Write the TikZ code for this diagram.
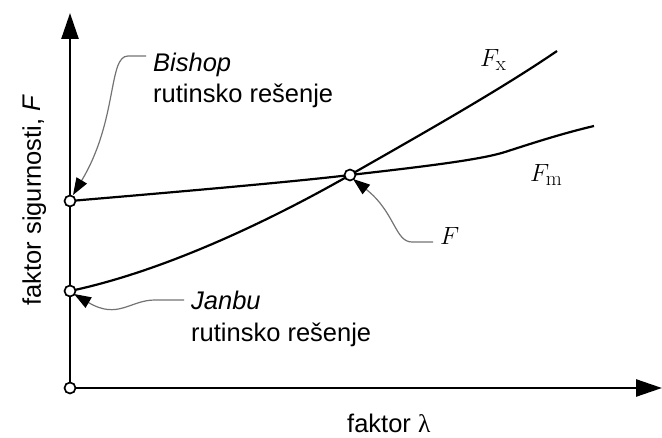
\documentclass[tikz,border=0pt]{standalone}
\usepackage[no-math]{fontspec}
\setmainfont{Liberation Sans}
\newfontfamily\serifgr{Liberation Serif}
\usetikzlibrary{arrows.meta}
\begin{document}
\begin{tikzpicture}[x=1pt,y=-1pt,
  axis/.style={line width=2.6pt,-{Triangle[length=26pt,width=17pt]}},
  curve/.style={line width=2.2pt,line join=round},
  leader/.style={line width=1.2pt,draw=black!55,-{Triangle[length=17pt,width=12pt,fill=black,color=black]}},
  pt/.style={circle,draw=black,line width=1.7pt,fill=white,minimum size=11pt,inner sep=0pt},
  txt/.style={font=\fontsize{25.5}{31}\selectfont,inner sep=0pt},
  mth/.style={font=\fontsize{31}{36}\selectfont,inner sep=0pt}]
\useasboundingbox (0,0) rectangle (662,438);
% axes
\coordinate (ytip) at (70,13);
\coordinate (xtip) at (662,388);
\coordinate (O0) at (70,388);
\draw[axis] (O0) -- (ytip);
\draw[axis] (O0) -- (xtip);
% points
\coordinate (Bc) at (70,201);
\coordinate (Jc) at (70,291);
\coordinate (Xc) at (350,175);
\coordinate (Xend) at (557,51);
\coordinate (Mend) at (594,126);
% curves
\draw[curve] (Jc) .. controls (170,270) and (280,215) .. (Xc)
  .. controls (420,135) and (500,90) .. (Xend);
\draw[curve] (Bc) .. controls (200,190) and (300,181) .. (Xc)
  .. controls (420,167) and (480,160) .. (505,152)
  .. controls (530,144) and (560,134) .. (Mend);
\node[pt] (O) at (O0) {};
\node[pt] (B) at (Bc) {};
\node[pt] (J) at (Jc) {};
\node[pt] (X) at (Xc) {};
% labels
\node[txt,anchor=base west] (bish) at (153,72) {\textit{Bishop}};
\node[txt,anchor=base west] (bish2) at (153,103) {rutinsko rešenje};
\node[txt,anchor=base west] (jan) at (191,310) {\textit{Janbu}};
\node[txt,anchor=base west] (jan2) at (191,342) {rutinsko rešenje};
\node[mth,anchor=base west] (Flab) at (440,245) {$F$};
\node[mth,anchor=base west] (Fx) at (480,67) {$F_{\mathrm{x}}$};
\node[mth,anchor=base west] (Fm) at (530,182) {$F_{\mathrm{m}}$};
\node[txt,anchor=base west] (xl) at (347,433) {faktor {\serifgr λ}};
\node[txt,anchor=base,rotate=90] (yl) at (41,200) {faktor sigurnosti, \textit{F}};
% leaders
\coordinate (bs) at (146,56);
\coordinate (js) at (184,300);
\coordinate (fs) at (433,242);
\draw[leader] (bs) -- (128,56) .. controls (108,56) and (118,120) .. (73,195);
\draw[leader] (js) -- (155,300) .. controls (130,300) and (118,320) .. (74,294);
\draw[leader] (fs) -- (412,242) .. controls (395,242) and (395,212) .. (353,179);
\end{tikzpicture}
\end{document}
